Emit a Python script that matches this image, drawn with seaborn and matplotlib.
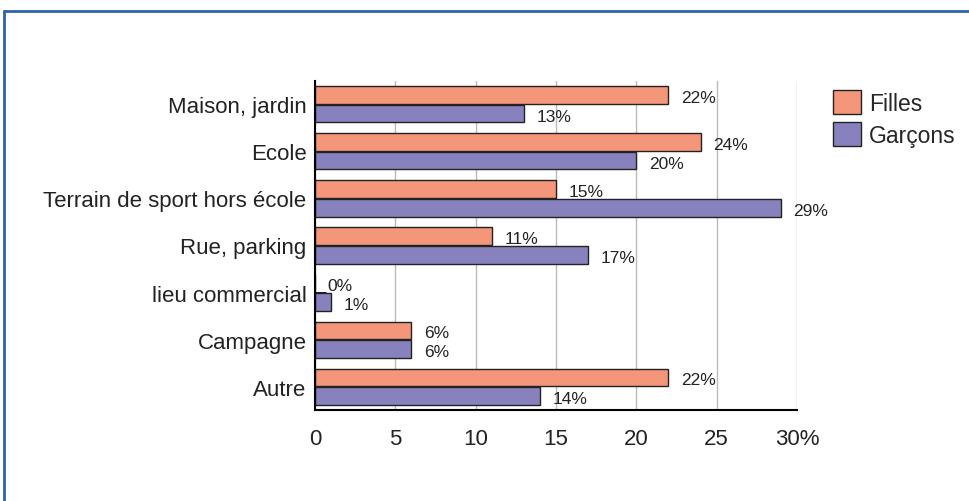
import pandas as pd
import matplotlib.pyplot as plt
import seaborn as sns
from matplotlib.lines import Line2D

# Lieux des accidents, en % par sexe
lieux = ["Maison, jardin", "Ecole", "Terrain de sport hors école", "Rue, parking",
         "lieu commercial", "Campagne", "Autre"]
filles = [22, 24, 15, 11, 0, 6, 22]
garcons = [13, 20, 29, 17, 1, 6, 14]
series = ["Filles", "Garçons"]
x_ticks = [0, 5, 10, 15, 20, 25, 30]
x_ticklabels = ["0", "5", "10", "15", "20", "25", "30%"]

df = pd.DataFrame({
    "lieu": lieux * 2,
    "pct": filles + garcons,
    "sexe": [series[0]] * len(lieux) + [series[1]] * len(lieux),
})

sns.set_theme(style="white")
plt.rcParams["font.family"] = ["Liberation Sans", "DejaVu Sans"]

fig = plt.figure(figsize=(9.69, 5.02), dpi=100)
ax = fig.add_axes([0.325, 0.181, 0.4975, 0.656])

palette = {"Filles": "#F4967A", "Garçons": "#8782BE"}
sns.barplot(data=df, y="lieu", x="pct", hue="sexe", order=lieux, hue_order=series,
            palette=palette, orient="h", width=0.8, gap=0.08, edgecolor="#222222",
            linewidth=1.0, saturation=1, ax=ax, zorder=2)

# value labels
for cont in ax.containers:
    for bar in cont:
        w = bar.get_width()
        yc = bar.get_y() + bar.get_height() / 2
        ax.annotate(f"{w:.0f}%", (w, yc), xytext=(9, -2), textcoords="offset points",
                    ha="left", va="center", fontsize=12.5, color="#222222")

ax.set_xlim(0, 30)
ax.set_ylim(len(lieux) - 0.5, -0.5)
ax.set_xticks(x_ticks)
ax.set_xticklabels(x_ticklabels, fontsize=16, color="#222222")
ax.set_yticks(range(len(lieux)))
ax.set_yticklabels(lieux, fontsize=16, color="#222222")
ax.set_xlabel("")
ax.set_ylabel("")

ax.grid(axis="x", color="#bbbbbb", linewidth=1, zorder=0)
ax.set_axisbelow(True)
ax.tick_params(axis="x", length=0, pad=13)
ax.tick_params(axis="y", direction="in", length=8, width=2, color="black", pad=6, left=True)
for s in ["top", "right"]:
    ax.spines[s].set_visible(False)
for s in ["left", "bottom"]:
    ax.spines[s].set_color("black")
    ax.spines[s].set_linewidth(1.5)

handles, labels = ax.get_legend_handles_labels()
ax.legend(handles, labels, loc="upper left", bbox_to_anchor=(1.055, 1.0), frameon=False,
          fontsize=16.5, handlelength=1.25, handleheight=1.25, handletextpad=0.35,
          labelspacing=0.3, borderaxespad=0)

# blue frame (top and left edges)
frame_color = "#2a64aa"
fig.add_artist(Line2D([0.004, 1.0], [1 - 12 / 502, 1 - 12 / 502], transform=fig.transFigure,
                      color=frame_color, linewidth=2))
fig.add_artist(Line2D([0.004, 0.004], [1 - 12 / 502, 0.0], transform=fig.transFigure,
                      color=frame_color, linewidth=2))

plt.savefig("out.png", dpi=100)
